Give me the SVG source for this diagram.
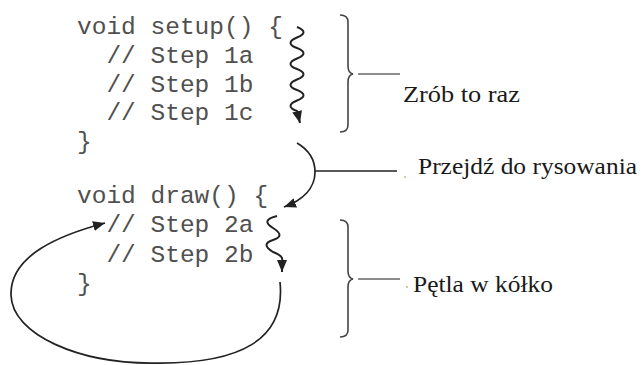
<svg xmlns="http://www.w3.org/2000/svg" width="642" height="365" viewBox="0 0 642 365">
  <style>
    .code { font-family: "Courier New", "Nimbus Mono PS", "FreeMono", "Liberation Mono", monospace; font-size: 24.5px; fill: #505050; }
    .label { font-family: "Liberation Serif", "Times New Roman", serif; font-size: 22.5px; fill: #1a1a1a; }
    .arrow { fill: none; stroke: #222; stroke-width: 1.7; }
    .wave { fill: none; stroke: #222; stroke-width: 2; }
    .brace { fill: none; stroke: #444; stroke-width: 1.6; }
    .tick { stroke: #666; stroke-width: 1.5; }
    .lead { stroke: #222; stroke-width: 1.5; }
  </style>
  <defs>
    <marker id="head" viewBox="0 0 12 10" refX="12" refY="5" markerWidth="12" markerHeight="10" markerUnits="userSpaceOnUse" orient="auto">
      <path d="M0,0 L12,5 L0,10 z" fill="#222"/>
    </marker>
  </defs>
  <rect width="642" height="365" fill="#fff"/>

  <!-- setup() block -->
  <g id="setup-block" class="code">
    <text x="77" y="34" xml:space="preserve">void setup() {</text>
    <text x="77" y="63" xml:space="preserve">  // Step 1a</text>
    <text x="77" y="91.5" xml:space="preserve">  // Step 1b</text>
    <text x="77" y="120" xml:space="preserve">  // Step 1c</text>
    <text x="77" y="149" xml:space="preserve">}</text>
  </g>

  <!-- draw() block -->
  <g id="draw-block" class="code">
    <text x="77" y="203" xml:space="preserve">void draw() {</text>
    <text x="77" y="232" xml:space="preserve">  // Step 2a</text>
    <text x="77" y="262" xml:space="preserve">  // Step 2b</text>
    <text x="77" y="291" xml:space="preserve">}</text>
  </g>

  <!-- arrows along the code -->
  <g id="connectors">
    <path class="wave" marker-end="url(#head)" d="M297 27 q13 5 0 10.5 t0 10.5 t0 10.5 t0 10.5 t0 10.5 t0 10.5 t0 10.5 t0 10.5 L300 123"/>
    <path class="arrow" marker-end="url(#head)" d="M297 143 C309 150 315 160 315 172 C315 188 303 200 284 207"/>
    <path class="wave" marker-end="url(#head)" d="M277 216 Q260 220 273 228 T273 240 T273 252 Q284 256 282 261 L282 272"/>
    <path class="arrow" marker-end="url(#head)" d="M280 282 C286 340 240 364 155 363 C80 364 12 335 11 295 C10 255 60 235 105 223"/>
    <line class="lead" x1="315" y1="171" x2="397" y2="171"/>
  </g>

  <!-- "once" brace -->
  <g id="once">
    <path class="brace" d="M340 15 Q348 15 348 22 L348 66 Q348 73 353 74 Q348 75 348 82 L348 125 Q348 132 340 132"/>
    <line class="tick" x1="358" y1="74" x2="400" y2="74"/>
    <text class="label" x="403" y="102" textLength="117" lengthAdjust="spacingAndGlyphs">Zrób to raz</text>
  </g>

  <!-- transition label -->
  <g id="go-draw">
    <circle cx="405" cy="177" r="0.8" fill="#b07a40"/>
    <text class="label" x="418" y="174" textLength="219" lengthAdjust="spacingAndGlyphs">Przejdź do rysowania</text>
  </g>

  <!-- "loop" brace -->
  <g id="loop">
    <path class="brace" d="M340 220 Q348 220 348 227 L348 271 Q348 278 353 279 Q348 280 348 287 L348 330 Q348 337 340 337"/>
    <line class="tick" x1="358" y1="279" x2="400" y2="279"/>
    <circle cx="407" cy="287" r="0.8" fill="#b07a40"/>
    <text class="label" x="413" y="292" textLength="140" lengthAdjust="spacingAndGlyphs">Pętla w kółko</text>
  </g>
</svg>
